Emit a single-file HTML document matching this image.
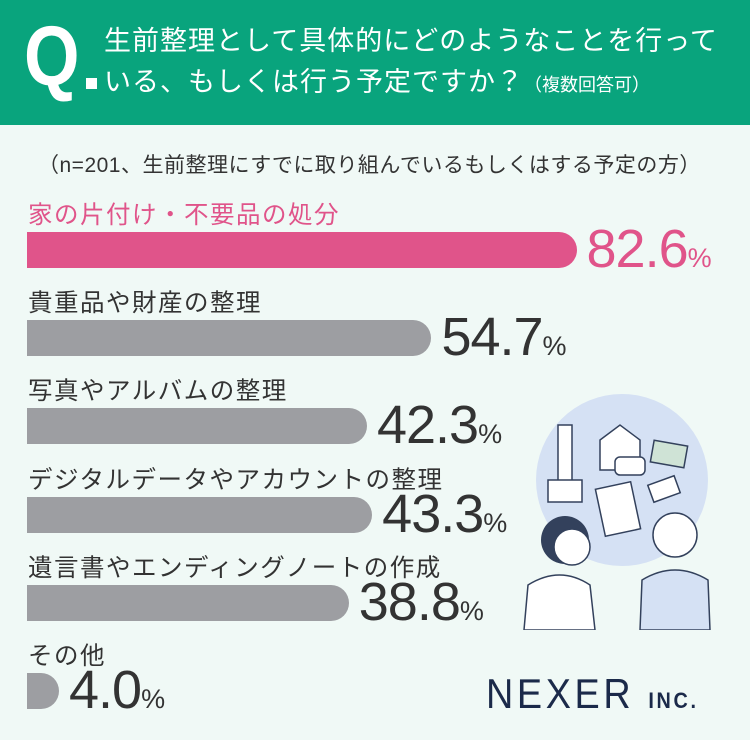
<!DOCTYPE html>
<html><head><meta charset="utf-8">
<style>
body{margin:0;width:750px;height:740px;overflow:hidden;background:#f0f9f6;font-family:"Liberation Sans","Noto Sans CJK JP",sans-serif;position:relative}
.hdr{position:absolute;left:0;top:0;width:750px;height:125px;background:#09a47d}
.q{position:absolute;left:24px;top:14px;font-size:84px;font-weight:bold;color:#fff;line-height:1;transform:scaleX(0.85);transform-origin:left}
.qd{position:absolute;left:86px;top:78px;width:11px;height:11px;background:#fff}
.tt{position:absolute;left:104px;color:#fff;font-size:27px;letter-spacing:1px;line-height:1;white-space:nowrap}
.sub{position:absolute;left:38px;top:149px;font-size:21px;letter-spacing:0.5px;color:#333;white-space:nowrap}
.lbl{position:absolute;left:28px;font-size:24.5px;letter-spacing:1.5px;color:#333;white-space:nowrap}
.bar{position:absolute;left:27px;height:36px;background:#9d9ea2;border-radius:0 18px 18px 0}
.val{position:absolute;font-size:54px;color:#333;white-space:nowrap;line-height:1;letter-spacing:-1px}
.val span{font-size:27px;letter-spacing:0}
</style></head><body>
<div class="hdr"></div>
<div class="q">Q</div>
<div class="qd"></div>
<div class="tt" style="top:28px">生前整理として具体的にどのようなことを行って</div>
<div class="tt" style="top:69px">いる、もしくは行う予定ですか？<span style="font-size:18px;letter-spacing:0">（複数回答可）</span></div>
<div class="sub">（n=201、生前整理にすでに取り組んでいるもしくはする予定の方）</div>
<div id="chart"></div>
<svg style="position:absolute;left:520px;top:385px" width="210" height="245">
<circle cx="102" cy="95" r="86" fill="#d5e1f4"/>
<rect x="38" y="40" width="14" height="60" fill="#fff" stroke="#33415c" stroke-width="1.5"/>
<rect x="28" y="95" width="34" height="22" fill="#fff" stroke="#33415c" stroke-width="1.5"/>
<path d="M80 55 L100 40 L120 55 L120 85 L80 85 Z" fill="#fff" stroke="#33415c" stroke-width="1.5"/>
<rect x="95" y="72" width="30" height="18" rx="5" fill="#fff" stroke="#33415c" stroke-width="1.5"/>
<rect x="132" y="58" width="34" height="22" fill="#cfe3d6" stroke="#33415c" stroke-width="1.5" transform="rotate(10 149 69)"/>
<rect x="80" y="100" width="36" height="48" fill="#fff" stroke="#33415c" stroke-width="1.5" transform="rotate(-12 98 124)"/>
<rect x="130" y="95" width="28" height="18" fill="#fff" stroke="#33415c" stroke-width="1.5" transform="rotate(-20 144 104)"/>
<circle cx="45" cy="155" r="24" fill="#33415c"/>
<circle cx="52" cy="162" r="18" fill="#fff" stroke="#33415c" stroke-width="1.5"/>
<path d="M4 245 L8 200 Q40 180 70 200 L75 245 Z" fill="#fff" stroke="#33415c" stroke-width="1.5"/>
<circle cx="155" cy="150" r="22" fill="#fff" stroke="#33415c" stroke-width="1.5"/>
<path d="M120 245 L122 195 Q155 175 188 195 L190 245 Z" fill="#d5e1f4" stroke="#33415c" stroke-width="1.5"/>
</svg>
<div style="position:absolute;left:486px;top:670px;font-size:42px;color:#1b2a4a;letter-spacing:4px;white-space:nowrap;transform:scaleX(0.9);transform-origin:left">NEXER <span style="font-size:22px;font-weight:bold;letter-spacing:3px">INC.</span></div>
<script>
const categories=["家の片付け・不要品の処分","貴重品や財産の整理","写真やアルバムの整理","デジタルデータやアカウントの整理","遺言書やエンディングノートの作成","その他"];
const values=[82.6,54.7,42.3,43.3,38.8,4.0];
const valueLabels=["82.6","54.7","42.3","43.3","38.8","4.0"];
function len(v){return v<10?v*8:120+5.2*v;}
const chart=document.getElementById('chart');
values.forEach((v,i)=>{
  const top=232+i*88.2;
  const hl=i===0;
  const l=document.createElement('div');
  l.className='lbl';l.style.top=(top-36)+'px';l.textContent=categories[i];
  if(hl)l.style.color='#e0548a';
  
  
  chart.appendChild(l);
  const b=document.createElement('div');
  b.className='bar';b.style.top=top+'px';b.style.width=len(v)+'px';
  if(hl)b.style.background='#e0548a';
  
  
  chart.appendChild(b);
  const t=document.createElement('div');
  t.className='val';t.style.top=(top-10)+'px';t.style.left=(27+len(v)+10)+'px';
  t.innerHTML=valueLabels[i]+'<span>%</span>';
  if(hl)t.style.color='#e0548a';
  
  
  chart.appendChild(t);
});
</script>
</body></html>
